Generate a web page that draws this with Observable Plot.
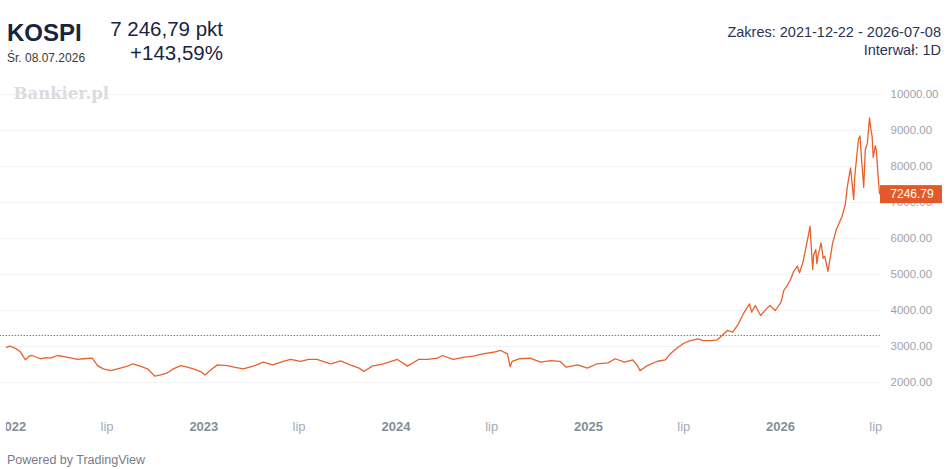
<!DOCTYPE html>
<html><head><meta charset="utf-8">
<script src="https://cdn.jsdelivr.net/npm/d3@7"></script>
<script src="https://cdn.jsdelivr.net/npm/@observablehq/plot@0.6"></script>
<style>
body{margin:0;background:#fff;}
#wrap{position:relative;width:948px;height:469px;overflow:hidden;font-family:"Liberation Sans",Arial,sans-serif;background:#fff;}
.t{position:absolute;line-height:1;white-space:nowrap;}
#chart{position:absolute;left:0;top:85px;}
</style></head><body>
<div id="wrap">
  <div class="t" style="left:7px;top:20.7px;font-size:24px;font-weight:bold;color:#172542">KOSPI</div>
  <div class="t" style="left:7px;top:51.8px;font-size:12px;color:#3a3a3a">Śr. 08.07.2026</div>
  <div class="t" style="right:725px;top:18.7px;font-size:20.5px;color:#172542">7 246,79 pkt</div>
  <div class="t" style="right:725px;top:43px;font-size:20.5px;color:#172542">+143,59%</div>
  <div class="t" style="right:7px;top:24.7px;font-size:14.5px;color:#2a3552">Zakres: 2021-12-22 - 2026-07-08</div>
  <div class="t" style="right:7px;top:42.7px;font-size:14.5px;color:#2a3552">Interwał: 1D</div>
  <div id="chart"></div>
  <div class="t" style="left:7px;top:454.4px;font-size:12.5px;color:#787b86">Powered by TradingView</div>
</div>
<script>
const dates = ["2021-12-22","2021-12-28","2022-01-07","2022-01-17","2022-01-27","2022-02-03","2022-02-09","2022-02-24","2022-03-08","2022-03-15","2022-03-29","2022-04-18","2022-05-06","2022-05-17","2022-06-03","2022-06-13","2022-06-24","2022-07-08","2022-07-21","2022-08-09","2022-08-19","2022-09-02","2022-09-16","2022-09-30","2022-10-11","2022-10-24","2022-11-04","2022-11-18","2022-12-01","2022-12-12","2022-12-26","2023-01-03","2023-01-17","2023-01-27","2023-02-15","2023-02-27","2023-03-17","2023-04-05","2023-04-24","2023-05-12","2023-06-01","2023-06-15","2023-07-04","2023-07-19","2023-08-04","2023-08-30","2023-09-18","2023-10-06","2023-10-23","2023-11-01","2023-11-17","2023-12-08","2024-01-04","2024-01-23","2024-02-13","2024-03-01","2024-03-20","2024-03-29","2024-04-19","2024-05-08","2024-05-27","2024-06-14","2024-07-04","2024-07-18","2024-07-31","2024-08-05","2024-08-09","2024-08-23","2024-09-12","2024-10-02","2024-10-21","2024-11-08","2024-11-20","2024-12-11","2024-12-30","2025-01-17","2025-02-07","2025-02-21","2025-03-10","2025-03-26","2025-04-04","2025-04-09","2025-04-23","2025-05-12","2025-05-27","2025-06-05","2025-06-19","2025-07-01","2025-07-14","2025-07-28","2025-08-07","2025-08-21","2025-09-03","2025-09-12","2025-09-22","2025-10-02","2025-10-13","2025-10-22","2025-11-03","2025-11-07","2025-11-14","2025-11-24","2025-12-05","2025-12-12","2025-12-22","2026-01-02","2026-01-07","2026-01-14","2026-01-20","2026-01-26","2026-02-02","2026-02-06","2026-02-13","2026-02-20","2026-02-26","2026-03-03","2026-03-05","2026-03-09","2026-03-11","2026-03-13","2026-03-19","2026-03-23","2026-03-26","2026-04-01","2026-04-07","2026-04-10","2026-04-17","2026-04-28","2026-05-04","2026-05-08","2026-05-14","2026-05-20","2026-05-22","2026-05-29","2026-06-01","2026-06-03","2026-06-08","2026-06-11","2026-06-15","2026-06-19","2026-06-22","2026-06-24","2026-06-26","2026-06-30","2026-07-02","2026-07-06","2026-07-08"];
const values = [2975,3010,2955,2860,2630,2730,2750,2660,2690,2675,2750,2700,2640,2660,2675,2470,2380,2330,2380,2455,2520,2455,2380,2175,2210,2270,2380,2470,2425,2380,2305,2210,2380,2490,2470,2425,2380,2455,2565,2490,2585,2640,2585,2640,2640,2520,2600,2490,2400,2305,2455,2520,2640,2455,2640,2640,2675,2750,2640,2700,2730,2795,2840,2890,2795,2440,2590,2660,2675,2565,2610,2585,2425,2490,2400,2520,2545,2660,2565,2630,2470,2330,2470,2590,2630,2795,2965,3090,3165,3210,3165,3165,3185,3305,3445,3400,3630,3905,4185,3955,4140,3860,4045,4140,4000,4230,4555,4700,4860,5090,5230,5045,5370,5880,6340,5140,5550,5695,5300,5510,5880,5450,5510,5090,5600,5880,6250,6620,6945,7455,7960,7080,7730,8750,8850,8380,7420,8465,8655,9350,9000,8840,8250,8580,8450,7600,7246.79];
const yTicks = [2000,3000,4000,5000,6000,7000,8000,9000,10000];
const xTickDates = ["2022-01-01","2022-07-01","2023-01-01","2023-07-01","2024-01-01","2024-07-01","2025-01-01","2025-07-01","2026-01-01","2026-07-01"];
const xTickLabels = ["2022","lip","2023","lip","2024","lip","2025","lip","2026","lip"];
const lastValue = 7246.79;
const refLevel = 3305;

const parse = s => new Date(s + "T00:00:00Z");
const series = dates.map((d, i) => ({date: parse(d), value: values[i]}));
const ticks = xTickDates.map((d, i) => ({date: parse(d), label: xTickLabels[i]}));
const start = parse(dates[0]);
const end = parse(dates[dates.length - 1]);
const dayMs = 86400000;
const leftEdge = new Date(start.getTime() - 12 * dayMs);
const rightEdge = new Date(end.getTime() + 2 * dayMs);

const priceLabel = (index, scales, vals, dims) => {
  const y = scales.y(lastValue);
  const x0 = dims.width - dims.marginRight;
  const g = d3.create("svg:g");
  g.append("rect").attr("x", x0).attr("y", y - 8).attr("width", 62).attr("height", 18).attr("fill", "#e35a2a");
  g.append("text").attr("x", x0 + 32).attr("y", y + 1).attr("dy", "0.35em").attr("text-anchor", "middle")
    .attr("fill", "#fff").attr("font-size", 12).attr("font-family", "Liberation Sans, Arial, sans-serif")
    .text(lastValue.toFixed(2));
  return g.node();
};

const chart = Plot.plot({
  width: 948,
  height: 360,
  marginLeft: 6,
  marginRight: 68,
  marginTop: 0,
  marginBottom: 0,
  style: {fontFamily: "Liberation Sans, Arial, sans-serif", background: "transparent"},
  x: {type: "utc", domain: [start, end], range: [6, 879], axis: null},
  y: {domain: [2000, 10000], range: [297, 9], axis: null},
  marks: [
    Plot.ruleY(yTicks, {y: d => d, x1: () => leftEdge, x2: () => rightEdge, stroke: "#f0f2f5", strokeWidth: 1}),
    Plot.text(["Bankier.pl"], {text: d => d, frameAnchor: "top-left", dx: 7, dy: 2, lineAnchor: "top",
      fontFamily: "DejaVu Serif", fontWeight: "bold", fontSize: 16.5, fill: "#d9dce1"}),
    Plot.ruleY([refLevel], {y: d => d, x1: () => leftEdge, x2: () => rightEdge, stroke: "#3c3f47", strokeWidth: 1, strokeDasharray: "1,2"}),
    Plot.line(series, {x: "date", y: "value", stroke: "#e9602e", strokeWidth: 1.3}),
    Plot.text(yTicks, {y: d => d, text: d => d.toFixed(2), frameAnchor: "right", textAnchor: "start", dx: 10,
      fontSize: 11.5, fill: "#9ea4ae"}),
    Plot.text(ticks.filter(t => t.label !== "lip"), {x: "date", text: "label", frameAnchor: "bottom", dy: -19,
      lineAnchor: "middle", fontSize: 13, fontWeight: "bold", fill: "#878d98", clip: true}),
    Plot.text(ticks.filter(t => t.label === "lip"), {x: "date", text: "label", frameAnchor: "bottom", dy: -19,
      lineAnchor: "middle", fontSize: 13, fill: "#a3aab6"}),
    priceLabel
  ]
});
document.getElementById("chart").appendChild(chart);
</script>
</body></html>
